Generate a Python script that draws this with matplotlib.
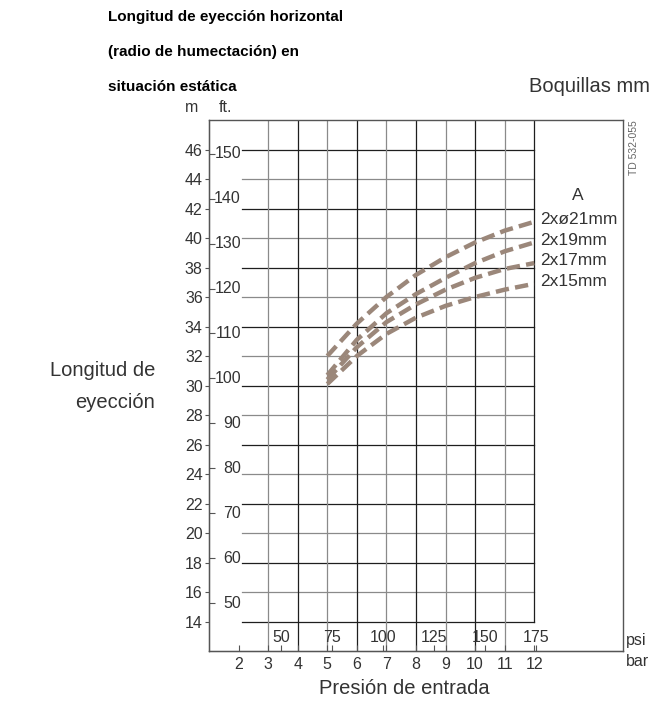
import numpy as np
import matplotlib
matplotlib.use("Agg")
import matplotlib.pyplot as plt

plt.rcParams["font.family"] = ["Liberation Sans", "DejaVu Sans"]

# pressure at the nozzle inlet (bar) and throw radius (m) per nozzle set
bar = [5, 6, 7, 8, 9, 10, 11, 12]
nozzles = ["2xø21mm", "2x19mm", "2x17mm", "2x15mm"]
throw_21 = [32.0, 34.2, 36.0, 37.5, 38.7, 39.7, 40.5, 41.1]
throw_19 = [30.7, 33.1, 34.9, 36.2, 37.3, 38.3, 39.1, 39.7]
throw_17 = [30.4, 32.6, 34.3, 35.5, 36.5, 37.3, 37.9, 38.3]
throw_15 = [30.1, 32.0, 33.5, 34.6, 35.4, 36.0, 36.5, 36.9]

m_ticks = list(range(14, 47, 2))
ft_ticks = [50, 60, 70, 80, 90, 100, 110, 120, 130, 140, 150]
bar_ticks = list(range(2, 13))
psi_ticks = [50, 75, 100, 125, 150, 175]

M_PER_FT = 0.3048
PSI_PER_BAR = 14.5038

curve_col = "#9b877a"
txt = "#333333"
fs = 11.5
big = 14.5

fig = plt.figure(figsize=(6.69, 7.06), dpi=100)
ax = fig.add_axes([0.3124, 0.0779, 0.6188, 0.7521])
ax.set_xlim(1, 15)
ax.set_ylim(12, 48)
for s in ax.spines.values():
    s.set_color("#555555")
    s.set_linewidth(1.0)

# grid
for m in m_ticks:
    c = "#8a8a8a" if m % 4 == 0 else "#1e1e1e"
    ax.plot([2.1, 12], [m, m], color=c, lw=0.9, zorder=1)
for b in range(3, 13):
    c = "#8a8a8a" if b % 2 == 1 else "#1e1e1e"
    ax.plot([b, b], [12 if b < 12 else 14, 48], color=c, lw=0.9, zorder=1)

# curves
for vals in [throw_21, throw_19, throw_17, throw_15]:
    ax.plot(bar, vals, color=curve_col, lw=3.2, dashes=(3, 1.4),
            dash_capstyle="butt", zorder=3)

for name, vals in zip(nozzles, [throw_21, throw_19, throw_17, throw_15]):
    ax.text(12.2, vals[-1] + 0.15, name, ha="left", va="center",
            fontsize=12.5, color=txt)
ax.text(13.47, 42.9, "A", ha="center", va="center", fontsize=12.5, color=txt)

# m axis
ax.set_yticks(m_ticks)
ax.tick_params(axis="y", direction="out", length=3, pad=1.5,
               labelsize=fs, labelcolor=txt, color="#555555")
# bar axis
ax.set_xticks(bar_ticks)
ax.tick_params(axis="x", direction="in", length=4, pad=4,
               labelsize=fs, labelcolor=txt, color="#555555")

# ft axis
sec = ax.secondary_yaxis("left", functions=(lambda m: m / M_PER_FT,
                                            lambda f: f * M_PER_FT))
sec.set_yticks(ft_ticks)
sec.tick_params(direction="in", length=4, labelleft=False, color="#555555")
for f in ft_ticks:
    ax.text(2.08, f * M_PER_FT, str(f), ha="right", va="center",
            fontsize=fs, color=txt)

# psi axis
secx = ax.secondary_xaxis("bottom", functions=(lambda b: b * PSI_PER_BAR,
                                               lambda p: p / PSI_PER_BAR))
secx.set_xticks(psi_ticks)
secx.tick_params(direction="in", length=4, labelbottom=False, color="#555555")
for p in psi_ticks:
    ax.text(p / PSI_PER_BAR, 12.6, str(p), ha="center", va="baseline",
            fontsize=fs, color=txt)

ax.text(1.007, 0.0113, "psi", transform=ax.transAxes, ha="left",
        va="baseline", fontsize=fs, color=txt)
ax.text(1.007, -0.028, "bar", transform=ax.transAxes, ha="left",
        va="baseline", fontsize=fs, color=txt)
ax.text(1.027, 1.0, "TD 532-055", transform=ax.transAxes, rotation=90,
        ha="center", va="top", fontsize=7.5, color="#666666")

# titles and labels
fig.text(0.1614, 0.9759, "Longitud de eyección horizontal", fontsize=11,
         fontweight="bold", ha="left", va="center")
fig.text(0.1614, 0.9263, "(radio de humectación) en", fontsize=11,
         fontweight="bold", ha="left", va="center")
fig.text(0.1614, 0.8768, "situación estática", fontsize=11,
         fontweight="bold", ha="left", va="center")
fig.text(0.972, 0.8768, "Boquillas mm", fontsize=big, ha="right",
         va="center", color=txt)
fig.text(192 / 669, 1 - 108 / 706, "m", fontsize=fs, ha="center",
         va="center", color=txt)
fig.text(225 / 669, 1 - 108 / 706, "ft.", fontsize=fs, ha="center",
         va="center", color=txt)
fig.text(155 / 669, 1 - 370 / 706, "Longitud de", fontsize=big, ha="right",
         va="center", color=txt)
fig.text(155 / 669, 1 - 403 / 706, "eyección", fontsize=big, ha="right",
         va="center", color=txt)
fig.text(404 / 669, 1 - 689 / 706, "Presión de entrada", fontsize=big,
         ha="center", va="center", color=txt)

fig.savefig("out.png", dpi=100)
